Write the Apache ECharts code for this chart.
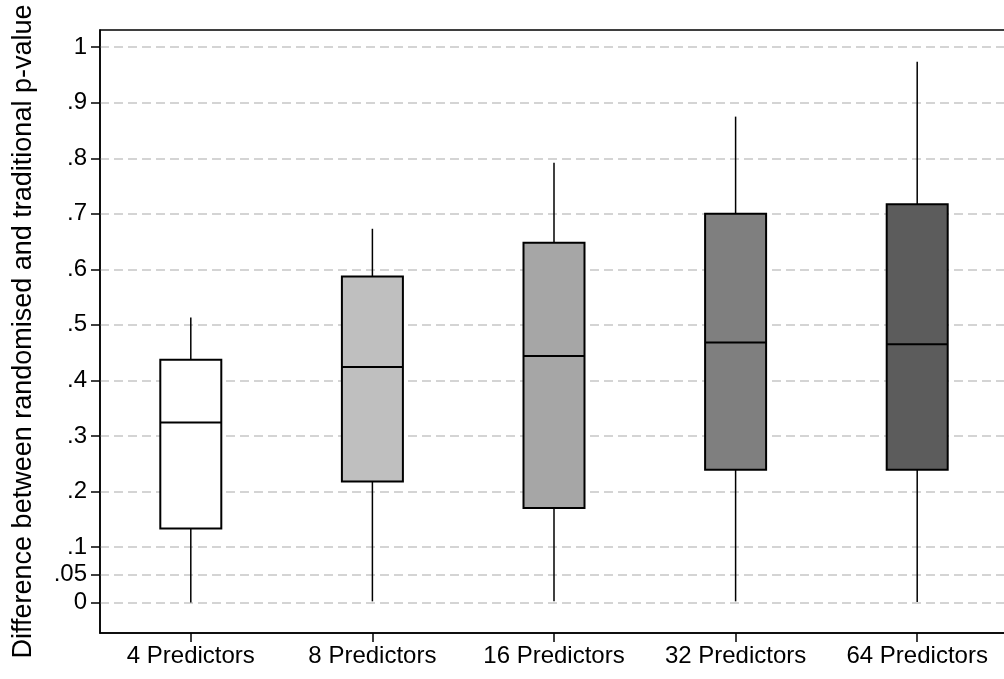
<!DOCTYPE html>
<html>
<head>
<meta charset="utf-8">
<script src="https://cdn.jsdelivr.net/npm/echarts@6/dist/echarts.min.js"></script>
<style>html,body{margin:0;padding:0;background:#fff;}#main{width:1004px;height:679px;}</style>
</head>
<body>
<div id="main"></div>
<script>
var categories = ['4 Predictors', '8 Predictors', '16 Predictors', '32 Predictors', '64 Predictors'];
var whiskerLow = [0.000, 0.002, 0.002, 0.002, 0.001];
var q1Values = [0.133, 0.218, 0.170, 0.239, 0.239];
var medianValues = [0.324, 0.424, 0.444, 0.468, 0.465];
var q3Values = [0.437, 0.587, 0.648, 0.700, 0.717];
var whiskerHigh = [0.513, 0.673, 0.792, 0.875, 0.974];
var boxColors = ['#ffffff', '#bfbfbf', '#a6a6a6', '#7f7f7f', '#5c5c5c'];
var yTicks = [0, 0.05, 0.1, 0.2, 0.3, 0.4, 0.5, 0.6, 0.7, 0.8, 0.9, 1];
var yTickLabels = ['0', '.05', '.1', '.2', '.3', '.4', '.5', '.6', '.7', '.8', '.9', '1'];

var data = categories.map(function (c, i) {
  return [i, whiskerLow[i], q1Values[i], medianValues[i], q3Values[i], whiskerHigh[i]];
});

var chart = echarts.init(document.getElementById('main'), null, {renderer: 'canvas'});
var FONT = 'Liberation Sans, Arial, Helvetica, sans-serif';

chart.setOption({
  animation: false,
  backgroundColor: '#ffffff',
  grid: {left: 100, top: 30, width: 908, bottom: 46, outerBoundsMode: 'none', containLabel: false,
    show: true, borderColor: '#000', borderWidth: 1.5, backgroundColor: 'transparent'},
  xAxis: {
    type: 'category',
    data: categories,
    boundaryGap: true,
    axisLine: {show: true, onZero: false, lineStyle: {color: '#000', width: 1.5}},
    axisTick: {show: true, alignWithLabel: true, interval: 0, length: 9, lineStyle: {color: '#000', width: 1.5}},
    axisLabel: {color: '#000', fontFamily: FONT, fontSize: 24, margin: 11, interval: 0, hideOverlap: false},
    splitLine: {show: false}
  },
  yAxis: {
    type: 'value',
    min: -0.055,
    max: 1.031,
    name: 'Difference between randomised and traditional p-value',
    nameLocation: 'middle',
    nameGap: 63,
    nameTextStyle: {color: '#000', fontFamily: FONT, fontSize: 27},
    axisLine: {show: true, onZero: false, lineStyle: {color: '#000', width: 1.5}},
    axisTick: {show: true, inside: false, length: 9, lineStyle: {color: '#000', width: 1.5}, customValues: yTicks},
    axisLabel: {
      color: '#000', fontFamily: FONT, fontSize: 24, margin: 13,
      customValues: yTicks,
      formatter: function (v) {
        for (var k = 0; k < yTicks.length; k++) { if (Math.abs(yTicks[k] - v) < 1e-9) return yTickLabels[k]; }
        return '';
      }
    },
    splitLine: {show: true, lineStyle: {color: '#c6c6c6', width: 1.5, type: [9, 5]}}
  },
  series: [{
    type: 'custom',
    data: data,
    encode: {x: 0, y: [1, 2, 3, 4, 5]},
    renderItem: function (params, api) {
      var idx = api.value(0);
      var lo = api.coord([idx, api.value(1)]);
      var q1 = api.coord([idx, api.value(2)]);
      var md = api.coord([idx, api.value(3)]);
      var q3 = api.coord([idx, api.value(4)]);
      var hi = api.coord([idx, api.value(5)]);
      var bw = 61;
      var cx = lo[0];
      var stroke = {stroke: '#000', lineWidth: 1.5};
      return {
        type: 'group',
        children: [
          {type: 'line', shape: {x1: cx, y1: lo[1], x2: cx, y2: q1[1]}, style: stroke},
          {type: 'line', shape: {x1: cx, y1: q3[1], x2: cx, y2: hi[1]}, style: stroke},
          {type: 'rect', shape: {x: cx - bw / 2, y: q3[1], width: bw, height: q1[1] - q3[1]},
            style: {fill: boxColors[idx], stroke: '#000', lineWidth: 2}},
          {type: 'line', shape: {x1: cx - bw / 2, y1: md[1], x2: cx + bw / 2, y2: md[1]}, style: {stroke: '#000', lineWidth: 2}}
        ]
      };
    }
  }]
});
</script>
</body>
</html>
